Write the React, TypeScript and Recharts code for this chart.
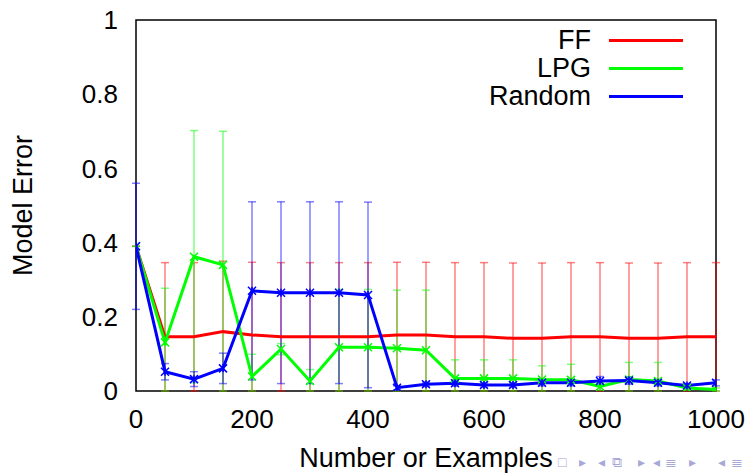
import React from "react";
import {
  ComposedChart,
  ErrorBar,
  Label,
  Legend,
  Line,
  ReferenceArea,
  XAxis,
  YAxis,
} from "recharts";

const FONT = '"Liberation Sans", Arial, sans-serif';

const examples = [
  0, 50, 100, 150, 200, 250, 300, 350, 400, 450, 500, 550, 600, 650, 700, 750,
  800, 850, 900, 950, 1000,
];

// mean model error per method
const ffError = [
  0.39, 0.146, 0.146, 0.16, 0.151, 0.146, 0.146, 0.146, 0.146, 0.151, 0.151,
  0.146, 0.146, 0.142, 0.142, 0.146, 0.146, 0.142, 0.142, 0.146, 0.146,
];
const lpgError = [
  0.39, 0.131, 0.362, 0.34, 0.039, 0.113, 0.027, 0.118, 0.118, 0.115, 0.11,
  0.034, 0.034, 0.034, 0.031, 0.03, 0.012, 0.031, 0.027, 0.008, 0.004,
];
const randomError = [
  0.39, 0.052, 0.032, 0.061, 0.27, 0.265, 0.265, 0.265, 0.259, 0.009, 0.018,
  0.021, 0.016, 0.016, 0.022, 0.022, 0.027, 0.028, 0.022, 0.015, 0.022,
];

// standard deviation (error bars)
const ffDev = [
  0, 0.2, 0.2, 0.19, 0.196, 0.2, 0.2, 0.2, 0.2, 0.196, 0.196, 0.2, 0.2, 0.203,
  0.203, 0.2, 0.2, 0.203, 0.203, 0.2, 0.2,
];
const lpgDev = [
  0, 0.146, 0.34, 0.36, 0.06, 0.015, 0.031, 0.156, 0.156, 0.157, 0.162, 0.05,
  0.05, 0.05, 0.037, 0.042, 0.01, 0.046, 0.05, 0.005, 0.004,
];
const randomDev = [
  0.17, 0.022, 0.02, 0.041, 0.24, 0.245, 0.245, 0.245, 0.25, 0.005, 0.006,
  0.008, 0.006, 0.006, 0.008, 0.008, 0.012, 0.01, 0.008, 0.005, 0.008,
];

const xTicks = [0, 200, 400, 600, 800, 1000];
const yTicks = [0, 0.2, 0.4, 0.6, 0.8, 1];

// error bars are cut at the x axis like the plot's clipping
const bar = (mean: number, dev: number) => [Math.min(dev, mean), dev];

const rows = examples.map((x, i) => ({
  x,
  ff: ffError[i],
  lpg: lpgError[i],
  random: randomError[i],
  ffDev: bar(ffError[i], ffDev[i]),
  lpgDev: bar(lpgError[i], lpgDev[i]),
  randomDev: bar(randomError[i], randomDev[i]),
}));

const RED = "#ff0000";
const GREEN = "#00ff00";
const BLUE = "#0000ff";

function CrossDot(props: any) {
  const { cx, cy, stroke, index } = props;
  if (cx == null || cy == null) return <g key={`c${index}`} />;
  const s = 4;
  return (
    <path
      key={`c${index}`}
      d={`M${cx - s},${cy - s}L${cx + s},${cy + s}M${cx - s},${cy + s}L${cx + s},${cy - s}`}
      stroke={stroke}
      strokeWidth={1.5}
      fill="none"
    />
  );
}

function StarDot(props: any) {
  const { cx, cy, stroke, index } = props;
  if (cx == null || cy == null) return <g key={`s${index}`} />;
  const s = 4;
  return (
    <path
      key={`s${index}`}
      d={`M${cx - s},${cy - s}L${cx + s},${cy + s}M${cx - s},${cy + s}L${cx + s},${cy - s}M${cx},${cy - s}L${cx},${cy + s}`}
      stroke={stroke}
      strokeWidth={1.5}
      fill="none"
    />
  );
}

const renderLegend = ({ payload }: any) => (
  <div style={{ fontFamily: FONT }}>
    {(payload ?? [])
      .filter((p: any) => p.type !== "none")
      .map((entry: any) => (
        <div
          key={entry.value}
          style={{ display: "flex", alignItems: "center", height: 28 }}
        >
          <span
            style={{
              width: 191,
              textAlign: "right",
              fontSize: 27,
              lineHeight: "28px",
              color: "#000",
            }}
          >
            {entry.value}
          </span>
          <span
            style={{
              width: 74,
              height: 3,
              marginLeft: 18,
              background: entry.color,
            }}
          />
        </div>
      ))}
  </div>
);

const frameAxis = {
  type: "number" as const,
  allowDataOverflow: true,
  axisLine: false,
  mirror: true,
  tick: false,
  tickSize: 7,
  stroke: "#555",
};

// beamer navigation glyphs in the slide's corner
const navSymbols = ["□", "▸", "◂", "⧉", "▸", "◂", "≣", "▸", "◂", "≣"];
const navLeft = [558, 579, 598, 612, 638, 653, 665, 689, 718, 731];

export default function App() {
  return (
    <div
      style={{
        position: "absolute",
        left: 0,
        top: 0,
        width: 751,
        height: 473,
        background: "#fff",
        fontFamily: FONT,
        overflow: "hidden",
      }}
    >
      <ComposedChart
        width={751}
        height={473}
        data={rows}
        margin={{ top: 20, right: 35, bottom: 0, left: 0 }}
      >
        <XAxis
          xAxisId="x"
          dataKey="x"
          type="number"
          domain={[0, 1000]}
          ticks={xTicks}
          allowDataOverflow
          height={82}
          axisLine={false}
          tickLine={false}
          tickSize={0}
          tickMargin={19}
          tick={{ fill: "#000", fontSize: 26 }}
        >
          <Label
            value="Number or Examples"
            position="center"
            dy={25}
            fill="#000"
            fontSize={27}
          />
        </XAxis>
        <XAxis {...frameAxis} xAxisId="xb" orientation="bottom" domain={[0, 1000]} ticks={xTicks} />
        <XAxis {...frameAxis} xAxisId="xt" orientation="top" domain={[0, 1000]} ticks={xTicks} />
        <YAxis
          yAxisId="y"
          type="number"
          domain={[0, 1]}
          ticks={yTicks}
          allowDataOverflow
          width={136}
          axisLine={false}
          tickLine={false}
          tickSize={0}
          tickMargin={18}
          tick={{ fill: "#000", fontSize: 26 }}
        >
          <Label
            value="Model Error"
            angle={-90}
            position="center"
            dx={-46}
            fill="#000"
            fontSize={27}
          />
        </YAxis>
        <YAxis {...frameAxis} yAxisId="yl" orientation="left" domain={[0, 1]} ticks={yTicks} />
        <YAxis {...frameAxis} yAxisId="yr" orientation="right" domain={[0, 1]} ticks={yTicks} />

        {/* error bars first, lines on top */}
        <Line xAxisId="x" yAxisId="y" dataKey="ff" stroke="none" dot={false} activeDot={false} legendType="none" isAnimationActive={false}>
          <ErrorBar dataKey="ffDev" direction="y" width={4} stroke={RED} strokeOpacity={0.5} strokeWidth={1.5} />
        </Line>
        <Line xAxisId="x" yAxisId="y" dataKey="lpg" stroke="none" dot={false} activeDot={false} legendType="none" isAnimationActive={false}>
          <ErrorBar dataKey="lpgDev" direction="y" width={4} stroke={GREEN} strokeOpacity={0.5} strokeWidth={1.5} />
        </Line>
        <Line xAxisId="x" yAxisId="y" dataKey="random" stroke="none" dot={false} activeDot={false} legendType="none" isAnimationActive={false}>
          <ErrorBar dataKey="randomDev" direction="y" width={4} stroke={BLUE} strokeOpacity={0.5} strokeWidth={1.5} />
        </Line>

        <Line xAxisId="x" yAxisId="y" type="linear" dataKey="ff" name="FF" stroke={RED} strokeWidth={3} dot={false} activeDot={false} isAnimationActive={false} />
        <Line xAxisId="x" yAxisId="y" type="linear" dataKey="lpg" name="LPG" stroke={GREEN} strokeWidth={3} dot={CrossDot} activeDot={false} isAnimationActive={false} />
        <Line xAxisId="x" yAxisId="y" type="linear" dataKey="random" name="Random" stroke={BLUE} strokeWidth={3} dot={StarDot} activeDot={false} isAnimationActive={false} />

        <ReferenceArea
          xAxisId="x"
          yAxisId="y"
          x1={0}
          x2={1000}
          y1={0}
          y2={1}
          fill="none"
          stroke="#000"
          strokeWidth={1.5}
          ifOverflow="visible"
        />

        <Legend
          layout="vertical"
          align="center"
          verticalAlign="middle"
          wrapperStyle={{ position: "absolute", left: 400, top: 26, width: 300 }}
          content={renderLegend}
        />
      </ComposedChart>
      {navSymbols.map((s, i) => (
        <span
          key={i}
          style={{
            position: "absolute",
            left: navLeft[i],
            top: 452,
            fontSize: 14,
            lineHeight: "20px",
            color: "#a8a8d8",
            whiteSpace: "nowrap",
          }}
        >
          {s}
        </span>
      ))}
    </div>
  );
}
